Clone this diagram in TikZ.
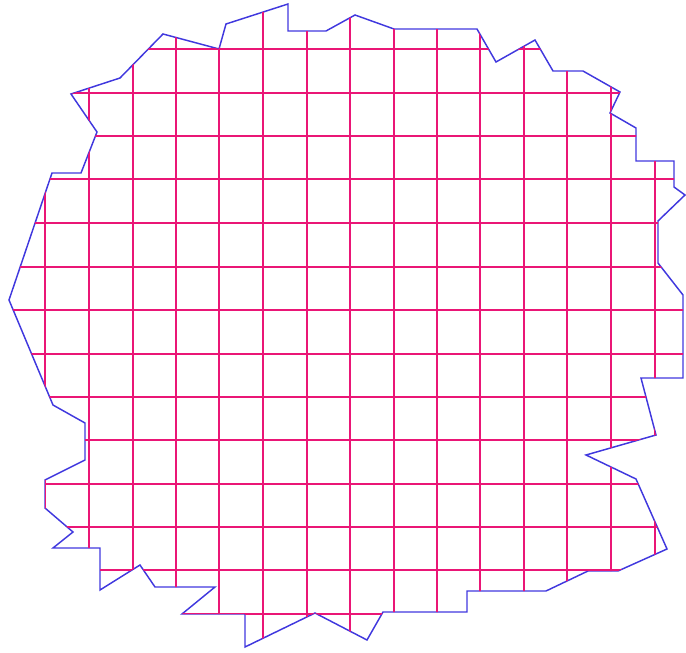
\documentclass[tikz,border=0pt]{standalone}
\definecolor{gridpink}{RGB}{234,22,118}
\definecolor{edgeblue}{RGB}{64,56,222}
\tikzset{
  gridline/.style={gridpink, line width=1.4pt},
  outline/.style={edgeblue, line width=1.1pt, line join=miter}
}
\begin{document}
\begin{tikzpicture}[x=0.75pt,y=-0.75pt]
\useasboundingbox (0,0) rectangle (686,653);
\def\shape{(9,300) -- (52,173) -- (81,173) -- (97,132) -- (71,94) -- (120,78) -- (163,34) -- (219,49) -- (226,24) -- (288,4) -- (288,31) -- (326,31) -- (355,15) -- (394,29) -- (477,29) -- (496,62) -- (535,40) -- (553,71) -- (583,71) -- (620,92) -- (610,113) -- (636,128) -- (636,161) -- (674,161) -- (674,187) -- (685,195) -- (658,221) -- (658,263) -- (683,295) -- (683,378) -- (641,378) -- (656,435) -- (586,455) -- (636,479) -- (667,549) -- (618,571) -- (588,571) -- (546,591) -- (467,591) -- (467,612) -- (383,612) -- (367,640) -- (315,613) -- (245,647) -- (245,614) -- (182,614) -- (215,587) -- (155,587) -- (140,565) -- (100,590) -- (100,548) -- (53,548) -- (73,532) -- (45,508) -- (45,480) -- (85,460) -- (85,423) -- (53,405) -- cycle}
\draw[outline] \shape;
\begin{scope}
  \clip \shape;
  \foreach \gx in {45,89,133,176,219,263,307,350,394,437,480,524,567,611,655}
    \draw[gridline] (\gx,0) -- (\gx,653);
  \foreach \gy in {49,93,136,179,223,267,310,354,397,440,484,527,570,614}
    \draw[gridline] (0,\gy) -- (686,\gy);
\end{scope}
\end{tikzpicture}
\end{document}
